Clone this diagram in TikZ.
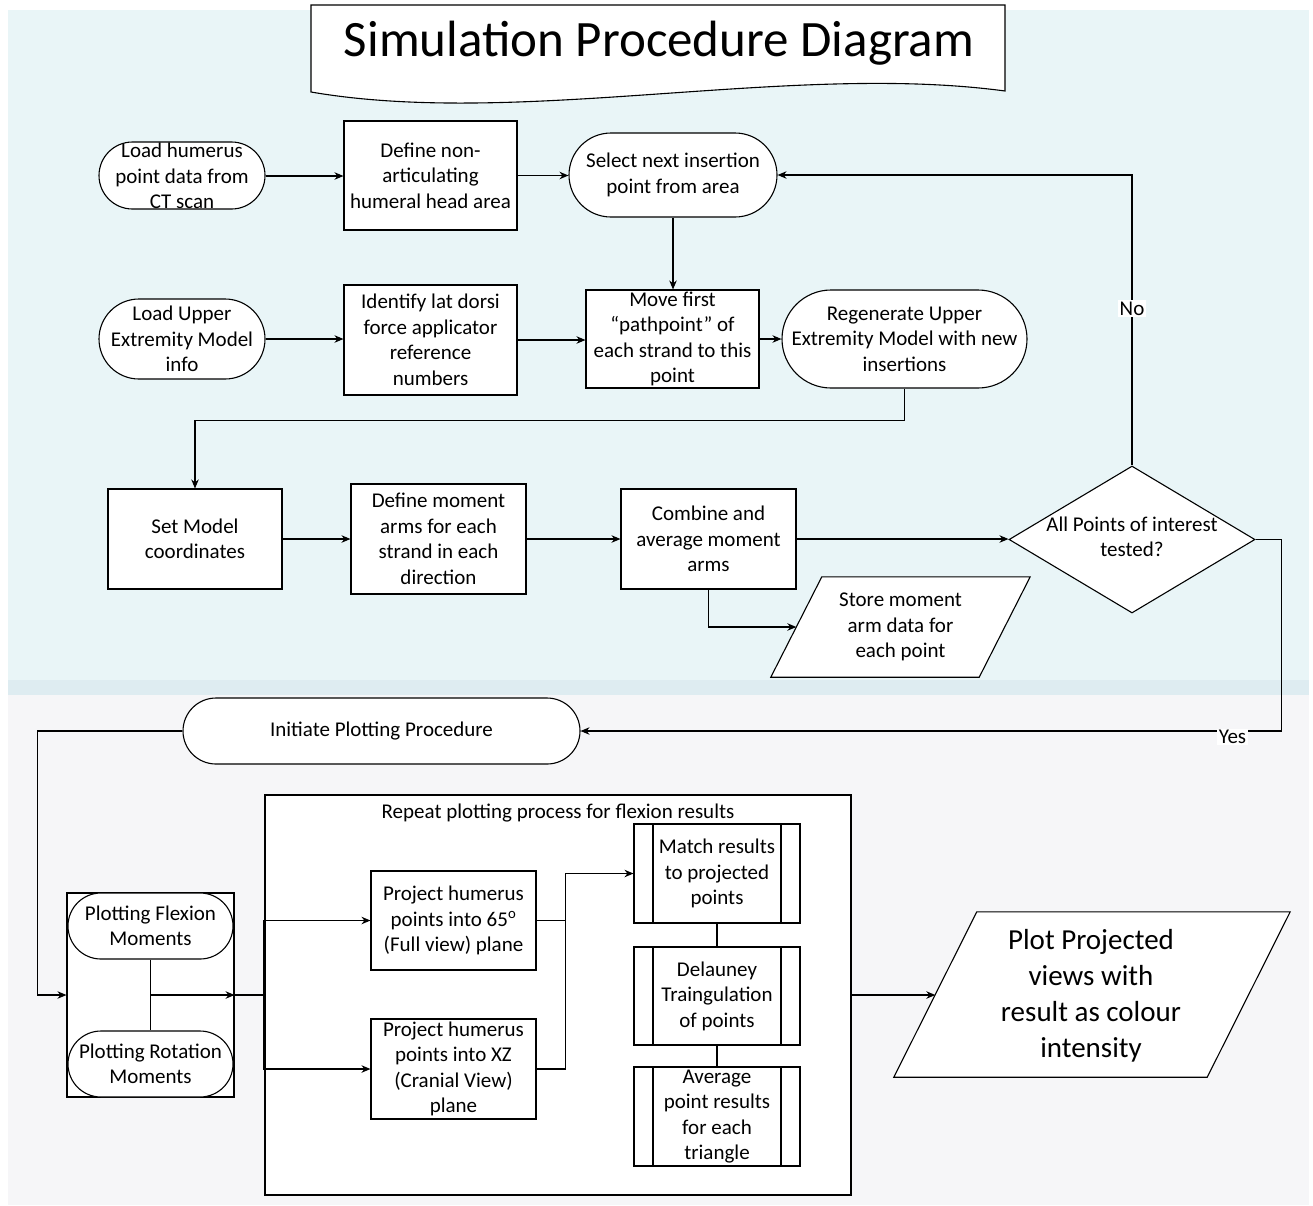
\documentclass[tikz,border=0pt]{standalone}
\usepackage{fontspec}
\setmainfont{Carlito}
\usetikzlibrary{shapes.geometric,arrows.meta}
\definecolor{bgtop}{RGB}{233,245,247}
\definecolor{bgband}{RGB}{222,236,241}
\definecolor{bgbot}{RGB}{246,246,248}
\begin{document}
\begin{tikzpicture}[x=1pt,y=-1pt,
  lw/.style={line width=1.1pt},
  txt/.style={font=\fontsize{21}{25.5}\selectfont, align=center, inner sep=0pt},
  sz/.style 2 args={minimum width=#1pt, minimum height=#2pt},
  boxr/.style={txt, draw, lw, fill=white, rectangle},
  term/.style={boxr, rounded corners=#1},
  predef/.style={boxr, path picture={
     \draw[lw] ([xshift=19pt]path picture bounding box.north west) -- ([xshift=19pt]path picture bounding box.south west)
               ([xshift=-19pt]path picture bounding box.north east) -- ([xshift=-19pt]path picture bounding box.south east);}},
  arr/.style={lw, -{Stealth[length=9pt,width=7.5pt]}},
  conn/.style={lw},
  lbl/.style={txt, fill=white, inner sep=1.5pt}
]
\useasboundingbox (0,0) rectangle (1313,1205);
% backgrounds
\fill[bgtop] (8,10) rectangle (1309,680);
\fill[bgband] (8,680) rectangle (1309,695);
\fill[bgbot] (8,695) rectangle (1309,1205);

% title document shape
\draw[lw, fill=white] (311,5) -- (1005,5) -- (1005,91) .. controls (790,62) and (520,128) .. (311,92) -- cycle;
\node[font=\fontsize{51}{60}\selectfont, inner sep=0pt, anchor=base] (title) at (659,56) {Simulation Procedure Diagram};

% top section nodes
\node[term=33.5pt, sz={166}{67}] (loadh) at (182,175.5) {};
\node[txt] (loadhtxt) at (182,176) {Load humerus\\point data from\\CT scan};
\node[boxr, sz={173}{109}] (defna) at (430.5,175.5) {Define non-\\articulating\\humeral head area};
\node[term=42pt, sz={208}{84}] (select) at (673,175) {Select next insertion\\point from area};

\node[term=40pt, sz={166}{80}] (loadu) at (182,339) {Load Upper\\Extremity Model\\info};
\node[boxr, sz={173}{110}] (ident) at (430.5,340) {Identify lat dorsi\\force applicator\\reference\\numbers};
\node[boxr, sz={173}{98}] (move) at (672.5,339) {Move first\\“pathpoint” of\\each strand to this\\point};
\node[term=49pt, sz={245}{98}] (regen) at (904.5,339) {Regenerate Upper\\Extremity Model with new\\insertions};

\node[boxr, sz={174}{100}] (setm) at (195,539) {Set Model\\coordinates};
\node[boxr, sz={175}{110}] (defm) at (438.5,539) {Define moment\\arms for each\\strand in each\\direction};
\node[boxr, sz={175}{100}] (comb) at (708.5,539) {Combine and\\average moment\\arms};
\node[diamond, draw, lw, fill=white, inner sep=0pt, sz={246}{147}] (diam) at (1132,539.5) {};
\node[txt] (diamtxt) at (1132,537) {All Points of interest\\tested?};

% store parallelogram
\node[sz={259}{100}, inner sep=0pt] (store) at (900.5,627) {};
\draw[lw, fill=white] ([xshift=51pt]store.north west) -- (store.north east) -- ([xshift=-51pt]store.south east) -- (store.south west) -- cycle;
\node[txt] (storetxt) at (900.5,627) {Store moment\\arm data for\\each point};
\coordinate (storein) at ([xshift=25.5pt]store.west);

% bottom section
\node[term=33pt, sz={397}{66}] (initp) at (381.5,731) {Initiate Plotting Procedure};

\node[draw, lw, fill=white, sz={586}{400}] (rep) at (558,995) {};
\node[txt] (replbl) at (558,813) {Repeat plotting process for flexion results};

\node[draw, lw, fill=white, sz={167}{204}] (cont) at (150.5,995) {};
\node[term=33pt, sz={165}{66}] (pflex) at (150.5,926) {Plotting Flexion\\Moments};
\node[term=33pt, sz={165}{66}] (prot) at (150.5,1064) {Plotting Rotation\\Moments};

\node[boxr, sz={165}{99}] (proj1) at (453.5,920.5) {Project humerus\\points into 65\textsuperscript{o}\\(Full view) plane};
\node[boxr, sz={165}{100}] (proj2) at (453.5,1069) {Project humerus\\points into XZ\\(Cranial View)\\plane};

\node[predef, sz={166}{99}] (match) at (717,873.5) {Match results\\to projected\\points};
\node[predef, sz={166}{98}] (delau) at (717,996) {Delauney\\Traingulation\\of points};
\node[predef, sz={166}{99}] (avg) at (717,1116.5) {Average\\point results\\for each\\triangle};

% plot parallelogram
\node[sz={396}{165}, inner sep=0pt] (plot) at (1092,994.5) {};
\draw[lw, fill=white] ([xshift=83pt]plot.north west) -- (plot.north east) -- ([xshift=-83pt]plot.south east) -- (plot.south west) -- cycle;
\node[align=center, inner sep=0pt, font=\fontsize{29}{36}\selectfont] (plottxt) at (1091,995.5) {Plot Projected\\views with\\result as colour\\intensity};
\coordinate (plotin) at ([xshift=41.5pt]plot.west);

% connectors, top
\draw[arr] (loadh.east |- loadhtxt) -- (defna.west |- loadhtxt);
\draw[arr] (defna.east) -- (defna.east -| select.west);
\draw[arr] (select.south) -- (select.south |- move.north);
\draw[arr] (loadu.east) -- (loadu.east -| ident.west);
\draw[arr] (ident.east) -- (ident.east -| move.west);
\draw[arr] (move.east) -- (move.east -| regen.west);
\draw[arr] (regen.south) -- ++(0,32) -| (setm.north);
\draw[arr] (setm.east) -- (setm.east -| defm.west);
\draw[arr] (defm.east) -- (defm.east -| comb.west);
\draw[arr] (comb.east) -- (comb.east -| diam.west);
\draw[arr] (comb.south) |- (storein);
\draw[arr] (diam.north) |- (select.east) node[lbl, pos=0.27] {No};
\draw[arr] (diam.east) -- ++(26,0) |- (initp.east) node[lbl, pos=0.535, yshift=-6pt] {Yes};

% connectors, bottom
\draw[arr] (initp.west) -- ++(-145,0) |- (cont.west);
\draw[conn] (pflex.south) -- (prot.north);
\draw[arr] (cont.center) -- (cont.east);
\draw[conn] (cont.east) -- ++(29,0) coordinate (split);
\draw[arr] (split) |- (proj1.west);
\draw[arr] (split) |- (proj2.west);
\draw[conn] (proj1.east) -- ++(29,0);
\draw[arr] (proj2.east) -- ++(29,0) |- (match.west);
\draw[conn] (match.south) -- (delau.north);
\draw[conn] (delau.south) -- (avg.north);
\draw[arr] (rep.east) -- (rep.east -| plotin);
\end{tikzpicture}
\end{document}
